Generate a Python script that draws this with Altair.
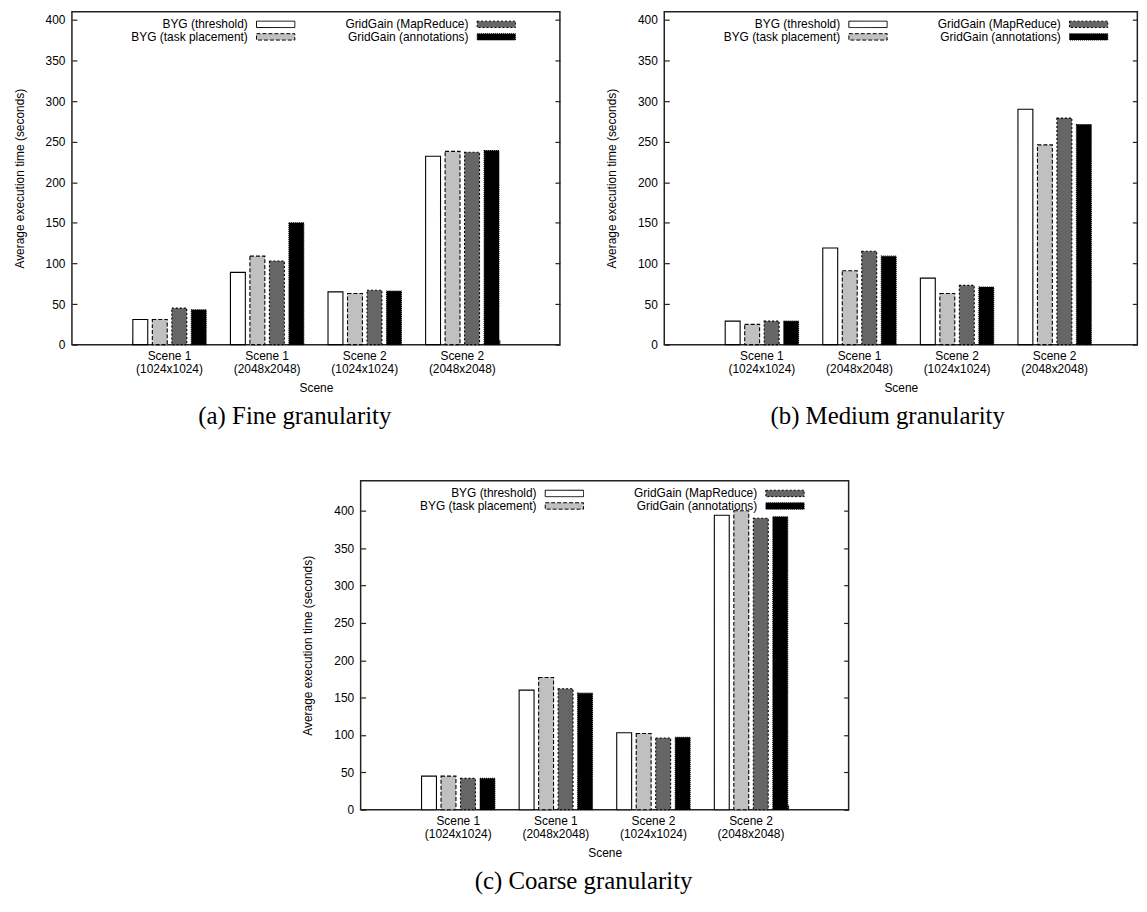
import altair as alt
import pandas as pd

scenes = ["Scene 1\n(1024x1024)", "Scene 1\n(2048x2048)",
          "Scene 2\n(1024x1024)", "Scene 2\n(2048x2048)"]
series = ["BYG (threshold)", "BYG (task placement)",
          "GridGain (MapReduce)", "GridGain (annotations)"]

fine_threshold = [31, 89, 65, 232]
fine_task = [31, 109, 63, 238]
fine_mapreduce = [45, 103, 67, 237]
fine_annot = [43, 150, 66, 239]

medium_threshold = [29, 119, 82, 290]
medium_task = [25, 91, 63, 246]
medium_mapreduce = [29, 115, 73, 279]
medium_annot = [29, 109, 71, 271]

coarse_threshold = [45, 160, 103, 394]
coarse_task = [45, 177, 102, 400]
coarse_mapreduce = [42, 162, 96, 390]
coarse_annot = [42, 156, 97, 392]

y_ticks = [0, 50, 100, 150, 200, 250, 300, 350, 400]

fills = ["#ffffff", "#c0c0c0", "#666666", "#000000"]
dashes = [[1, 0], [4, 2], [2, 2], [1, 1]]

FONT = "Liberation Sans"


def panel(vals, caption, ymax, width, height, pad_outer, align, dx):
    rows = []
    for se, v in zip(series, vals):
        for i, sc in enumerate(scenes):
            rows.append({"scene": sc, "series": se, "value": v[i]})
    df = pd.DataFrame(rows)

    xscale = alt.Scale(domain=scenes, paddingInner=0.2,
                       paddingOuter=pad_outer, align=align)
    yscale = alt.Scale(domain=[0, ymax], nice=False, zero=True)
    fill_scale = alt.Scale(domain=series, range=fills)
    dash_scale = alt.Scale(domain=series, range=dashes)

    bars = alt.Chart(df).mark_bar(stroke="black", strokeWidth=1.1).encode(
        x=alt.X("scene:N", sort=scenes, scale=xscale,
                axis=alt.Axis(title="Scene",
                              labelExpr="split(datum.label, '\\n')",
                              ticks=False, tickSize=0, domain=False,
                              labelPadding=6, labelLineHeight=13,
                              titlePadding=8, labelAngle=0)),
        xOffset=alt.XOffset("series:N", sort=series,
                            scale=alt.Scale(domain=series, paddingInner=0.235,
                                            paddingOuter=0.12)),
        y=alt.Y("value:Q", scale=yscale,
                axis=alt.Axis(title="Average execution time (seconds)",
                              values=y_ticks, orient="left", offset=-5,
                              tickSize=5, domain=False, grid=False,
                              labelPadding=7, titlePadding=19)),
        fill=alt.Fill("series:N", sort=series, scale=fill_scale, legend=None),
        strokeDash=alt.StrokeDash("series:N", sort=series, scale=dash_scale,
                                  legend=None),
    )

    ticks_df = pd.DataFrame({"tick": y_ticks})
    rticks = alt.Chart(ticks_df).mark_point(opacity=0).encode(
        y=alt.Y("tick:Q", scale=yscale,
                axis=alt.Axis(orient="right", offset=-5, tickSize=5,
                              labels=False, domain=False, grid=False,
                              title=None, values=y_ticks)))

    cat_df = pd.DataFrame({"scene": scenes})
    xticks = alt.Chart(cat_df).mark_point(opacity=0).encode(
        x=alt.X("scene:N", sort=scenes, scale=xscale,
                axis=alt.Axis(orient="bottom", offset=-5, tickSize=5,
                              labels=False, domain=False, title=None)))

    leg_df = pd.DataFrame({"series": series,
                           "col": [i // 2 for i in range(len(series))],
                           "row": [i % 2 for i in range(len(series))]})
    lx = alt.X("col:Q", scale=alt.Scale(domain=[0, 1], range=[177, 399]),
               axis=None)
    ly = alt.Y("row:Q", scale=alt.Scale(domain=[0, 1], range=[12.7, 25.3]),
               axis=None)
    leg_text = alt.Chart(leg_df).mark_text(
        align="right", baseline="middle", fontSize=12, font=FONT,
        color="black").encode(x=lx, y=ly, text="series:N")
    leg_sym = alt.Chart(leg_df).mark_point(
        shape="M-3,-0.5L3,-0.5L3,0.5L-3,0.5Z", size=165, filled=True,
        stroke="black", strokeWidth=1, opacity=1, xOffset=28).encode(
        x=lx, y=ly,
        fill=alt.Fill("series:N", sort=series, scale=fill_scale, legend=None),
        strokeDash=alt.StrokeDash("series:N", sort=series, scale=dash_scale,
                                  legend=None),
    )

    return alt.layer(bars, rticks, xticks, leg_text, leg_sym).resolve_scale(
        x="independent", y="independent").resolve_axis(
        x="independent", y="independent").properties(
        width=width, height=height,
        title=alt.TitleParams(caption, orient="bottom", anchor="middle",
                              frame="bounds", font="Liberation Serif",
                              fontSize=25, fontWeight="normal",
                              color="black", offset=11, dx=dx))


a = panel([fine_threshold, fine_task, fine_mapreduce, fine_annot],
          "(a) Fine granularity", 410, 491, 335, 0.6, 0.5, 8)
b = panel([medium_threshold, medium_task, medium_mapreduce, medium_annot],
          "(b) Medium granularity", 410, 476, 335, 0.524, 0.573, 16)
c = panel([coarse_threshold, coarse_task, coarse_mapreduce, coarse_annot],
          "(c) Coarse granularity", 440, 491, 331, 0.6, 0.5, 8)

chart = alt.vconcat(
    alt.hconcat(a, b, spacing=43), c, spacing=50, center=True
).properties(
    padding={"left": 4, "top": 0, "right": 0, "bottom": 0}
).configure_view(
    stroke="#222", strokeWidth=1.5
).configure_axis(
    labelFont=FONT, titleFont=FONT, labelFontSize=12, titleFontSize=12,
    labelColor="black", titleColor="black", titleFontWeight="normal",
    tickColor="#222", tickWidth=1.2
)

chart.save("out.html", embed_options={"renderer": "svg", "actions": False})
